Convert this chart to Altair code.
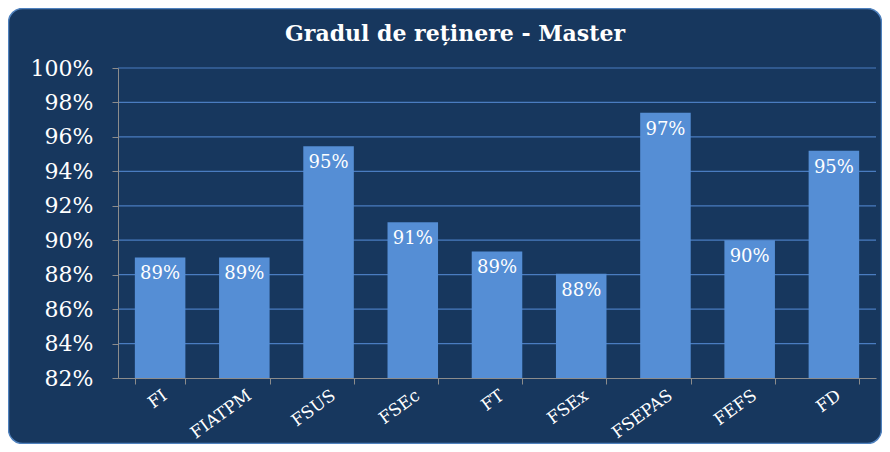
import altair as alt
import pandas as pd

categories = ["FI", "FIATPM", "FSUS", "FSEc", "FT", "FSEx", "FSEPAS", "FEFS", "FD"]
values = [0.890, 0.890, 0.9545, 0.9105, 0.8935, 0.8805, 0.974, 0.900, 0.952]
y_ticks = [0.82, 0.84, 0.86, 0.88, 0.90, 0.92, 0.94, 0.96, 0.98, 1.00]
title_text = "Gradul de reținere - Master"

W, H = 758, 310
PAD = {"left": 110, "top": 60, "right": 6, "bottom": 66}
NAVY = "#17375E"
BAR = "#558ED5"
GRID = "#4A7CC0"
AXIS = "#8C8C8C"
FONT = "DejaVu Serif"

df = pd.DataFrame({"cat": categories, "val": values})
grid_df = pd.DataFrame({"v": y_ticks[1:]})

x_axis = alt.Axis(labelAngle=-36, labelFont=FONT, labelFontSize=17,
                  labelColor="white", tickBand="extent", tickSize=6,
                  tickColor=AXIS, domainColor=AXIS, labelPadding=3,
                  labelOverlap=False, grid=False, zindex=2)
x_scale = alt.Scale(paddingInner=0.4, paddingOuter=0.2)
y_scale = alt.Scale(domain=[0.82, 1.0], nice=False, zero=False)
y_axis = alt.Axis(values=y_ticks, format=".0%", labelFont=FONT, labelFontSize=22,
                  labelColor="white", tickSize=6, tickColor=AXIS, domainColor=AXIS,
                  labelPadding=19, labelOverlap=False, grid=False, zindex=2)

x_enc = alt.X("cat:N", sort=categories, title=None, scale=x_scale, axis=x_axis)
y_enc = alt.Y("val:Q", scale=y_scale, axis=y_axis, title=None)

panel = alt.Chart(alt.Data(values=[{}])).mark_rect(
    fill=NAVY, stroke="#4F81BD", strokeWidth=1.5, cornerRadius=14, clip=False
).encode(
    x=alt.value(-109.5), x2=alt.value(W + PAD["right"] - 0.5),
    y=alt.value(-PAD["top"] + 0.5), y2=alt.value(H + PAD["bottom"] - 0.5)
)

title = alt.Chart(alt.Data(values=[{"t": title_text}])).mark_text(
    font=FONT, fontSize=22, fontWeight="bold", color="white",
    baseline="alphabetic", align="center"
).encode(x=alt.value(337), y=alt.value(-27), text="t:N")

grid = alt.Chart(grid_df).mark_rule(color=GRID, strokeWidth=1.2).encode(
    y=alt.Y("v:Q", scale=y_scale, axis=y_axis, title=None),
    x=alt.value(0), x2=alt.value(W)
)

bars = alt.Chart(df).mark_bar(color=BAR).encode(
    x=x_enc, y=y_enc, y2=alt.datum(0.82)
)

labels = alt.Chart(df).mark_text(
    font=FONT, fontSize=18, color="white", baseline="middle", dy=17
).encode(
    x=x_enc, y=y_enc,
    text=alt.Text("val:Q", format=".0%")
)

chart = alt.layer(panel, title, grid, bars, labels).properties(
    width=W, height=H,
    autosize=alt.AutoSizeParams(type="none"),
    padding=PAD,
    background="white"
).configure_view(stroke=None).configure_axisY(labelOverlap=False)

chart.save("out.html", embed_options={"renderer": "svg", "actions": False})
